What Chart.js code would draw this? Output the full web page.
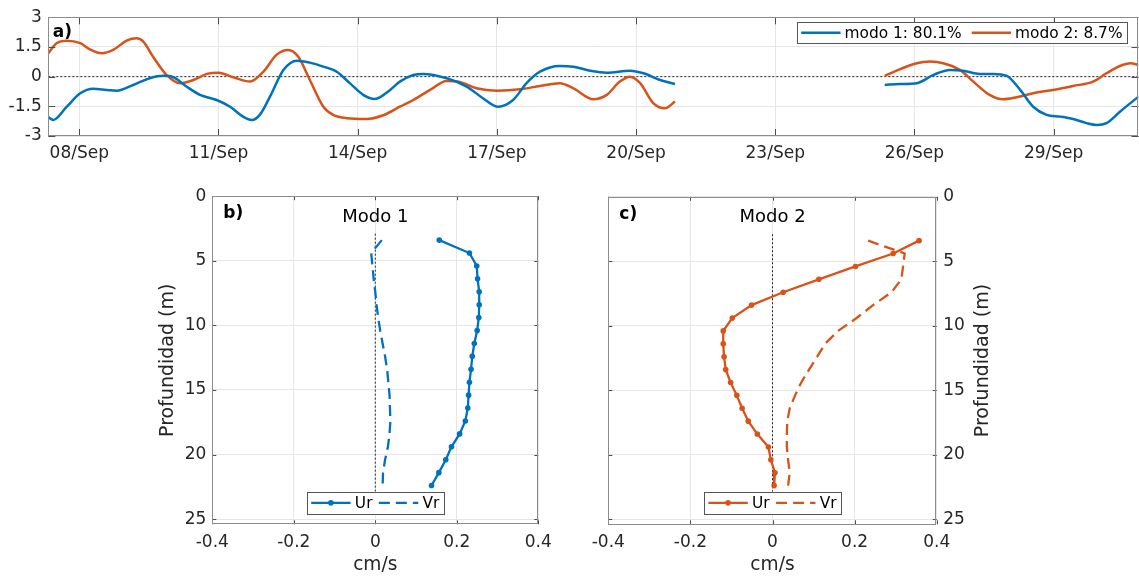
<!DOCTYPE html>
<html lang="es">
<head>
<meta charset="utf-8" />
<title>Modos: serie temporal y perfiles</title>
<script src="https://cdn.jsdelivr.net/npm/chart.js@4"></script>
<style>
  body { margin: 0; background: #fff; width: 1139px; height: 576px; position: relative; overflow: hidden; }
  canvas { position: absolute; }
  #serie { left: 0; top: 0; }
  #modo1 { left: 150px; top: 180px; }
  #modo2 { left: 570px; top: 180px; }
</style>
</head>
<body>
<canvas id="serie" width="1139" height="176"></canvas>
<canvas id="modo1" width="410" height="396"></canvas>
<canvas id="modo2" width="440" height="396"></canvas>
<script>
// --- panel a: amplitud de los modos (dia de septiembre, null = hueco sin datos)
const diasModo1 = [7.33, 7.44, 7.73, 8.02, 8.30, 8.59, 8.81, 9.16, 9.52, 9.81, 10.03, 10.31, 10.60, 10.96,
  11.25, 11.53, 11.72, 11.89, 12.11, 12.40, 12.69, 12.97, 13.26, 13.55, 13.83, 14.12, 14.37, 14.70, 14.91,
  15.20, 15.41, 15.92, 16.35, 16.70, 17.03, 17.35, 17.64, 17.93, 18.36, 18.65, 19.01, 19.37, 19.87, 20.16,
  20.52, 20.84, 23.0, 25.36, 25.68, 26.05, 26.41, 26.77, 27.05, 27.41, 27.70, 27.99, 28.28, 28.56, 28.85,
  29.14, 29.42, 29.71, 29.93, 30.14, 30.43, 30.83];
const modo1 = [-2.05, -2.19, -1.52, -0.84, -0.61, -0.67, -0.71, -0.42, -0.08, 0.04, -0.03, -0.50, -0.92, -1.18,
  -1.52, -2.02, -2.19, -1.93, -1.01, 0.34, 0.81, 0.71, 0.51, 0.25, -0.33, -0.92, -1.13, -0.67, -0.25,
  0.08, 0.14, -0.08, -0.50, -1.09, -1.52, -1.18, -0.33, 0.25, 0.54, 0.50, 0.30, 0.20, 0.30, 0.17,
  -0.17, -0.37, null, -0.42, -0.37, -0.33, 0.09, 0.34, 0.30, 0.14, 0.14, 0.04, -0.67, -1.52, -1.93,
  -2.02, -2.14, -2.35, -2.44, -2.35, -1.77, -1.01];
const diasModo2 = [7.33, 7.51, 7.73, 8.02, 8.23, 8.48, 8.73, 9.02, 9.24, 9.38, 9.59, 9.88, 10.17, 10.46,
  10.75, 11.00, 11.32, 11.68, 11.97, 12.25, 12.50, 12.72, 12.97, 13.26, 13.47, 13.76, 14.19, 14.55, 14.91,
  15.20, 15.56, 15.92, 16.20, 16.56, 17.00, 17.50, 17.93, 18.36, 18.65, 19.08, 19.37, 19.65, 19.87, 20.09,
  20.37, 20.62, 20.84, 23.0, 25.36, 25.68, 26.05, 26.34, 26.62, 26.98, 27.27, 27.62, 27.91, 28.20, 28.56,
  28.99, 29.42, 29.85, 30.14, 30.43, 30.66, 30.83];
const modo2 = [1.18, 1.69, 1.82, 1.69, 1.38, 1.18, 1.35, 1.82, 1.94, 1.77, 1.01, 0.09, -0.33, -0.17,
  0.14, 0.20, -0.03, -0.25, 0.25, 1.10, 1.35, 1.01, -0.17, -1.52, -1.93, -2.10, -2.14, -1.95, -1.52,
  -1.18, -0.67, -0.22, -0.27, -0.59, -0.71, -0.64, -0.47, -0.33, -0.59, -1.14, -0.92, -0.25, 0.00, -0.33,
  -1.34, -1.60, -1.26, null, 0.04, 0.37, 0.68, 0.76, 0.68, 0.34, -0.25, -0.92, -1.14, -1.04, -0.84,
  -0.67, -0.47, -0.25, 0.17, 0.54, 0.68, 0.59];
const diasTicks = [8, 11, 14, 17, 20, 23, 26, 29];
const fechasTicks = ['08/Sep', '11/Sep', '14/Sep', '17/Sep', '20/Sep', '23/Sep', '26/Sep', '29/Sep'];
const ampTicks = [-3, -1.5, 0, 1.5, 3];
const ampLabels = ['-3', '-1.5', '0', '1.5', '3'];
const diaMin = 7.332, diaMax = 30.83;

// --- paneles b y c: perfiles verticales
const profundidad = [3.4, 4.4, 5.4, 6.4, 7.4, 8.4, 9.4, 10.4, 11.4, 12.4, 13.4, 14.4, 15.4, 16.4, 17.4,
  18.4, 19.4, 20.4, 21.4, 22.4];
const urModo1 = [0.157, 0.231, 0.249, 0.251, 0.255, 0.255, 0.254, 0.250, 0.243, 0.238, 0.235, 0.231,
  0.229, 0.227, 0.221, 0.207, 0.187, 0.173, 0.156, 0.138];
const vrModo1 = [0.016, -0.010, -0.007, -0.004, 0.000, 0.003, 0.007, 0.012, 0.018, 0.024, 0.029, 0.032,
  0.035, 0.036, 0.037, 0.035, 0.031, 0.024, 0.019, 0.018];
const urModo2 = [0.357, 0.294, 0.202, 0.113, 0.026, -0.051, -0.098, -0.120, -0.120, -0.118, -0.114, -0.102,
  -0.087, -0.074, -0.059, -0.037, -0.010, -0.004, 0.006, 0.004];
const vrModo2 = [0.233, 0.322, 0.318, 0.314, 0.290, 0.245, 0.205, 0.160, 0.128, 0.109, 0.089, 0.070,
  0.055, 0.042, 0.036, 0.035, 0.035, 0.038, 0.042, 0.038];
const velTicks = [-0.4, -0.2, 0, 0.2, 0.4];
const velLabels = ['-0.4', '-0.2', '0', '0.2', '0.4'];
const profTicks = [0, 5, 10, 15, 20, 25];
const profLabels = ['0', '5', '10', '15', '20', '25'];
const profMax = 25.4;
const lineaCero = [2.9, 22.9];

Chart.defaults.font.family = "'DejaVu Sans', sans-serif";
Chart.defaults.font.size = 17;
Chart.defaults.color = '#262626';
Chart.defaults.animation = false;
Chart.defaults.plugins.legend.display = false;
Chart.defaults.plugins.tooltip.enabled = false;

const AZUL = '#0072bd', NARANJA = '#d95319';
const GRID = '#e6e6e6';

// marco, ticks interiores, etiquetas y leyenda estilo matlab
const marco = {
  id: 'marco',
  afterDraw(chart, args, o) {
    const { ctx, chartArea: a, scales } = chart;
    ctx.save();
    ctx.strokeStyle = '#4d4d4d';
    ctx.lineWidth = 1;
    ctx.beginPath();
    scales.x.ticks.forEach(t => {
      const p = Math.round(scales.x.getPixelForValue(t.value)) + 0.5;
      ctx.moveTo(p, a.bottom); ctx.lineTo(p, a.bottom - o.tick);
      ctx.moveTo(p, a.top); ctx.lineTo(p, a.top + o.tick);
    });
    scales.y.ticks.forEach(t => {
      const p = Math.round(scales.y.getPixelForValue(t.value)) + 0.5;
      ctx.moveTo(a.left, p); ctx.lineTo(a.left + o.tick, p);
      ctx.moveTo(a.right, p); ctx.lineTo(a.right - o.tick, p);
    });
    ctx.stroke();
    ctx.strokeStyle = '#8c8c8c';
    ctx.strokeRect(Math.round(a.left) + 0.5, Math.round(a.top) + 0.5,
      Math.round(a.right - a.left) - 1, Math.round(a.bottom - a.top) - 1);

    ctx.textBaseline = 'middle';
    ctx.fillStyle = '#000';
    ctx.font = "bold 17px 'DejaVu Sans'";
    ctx.textAlign = 'left';
    ctx.fillText(o.tag, a.left + o.tagDx, a.top + o.tagDy);
    if (o.title) {
      ctx.font = "18px 'DejaVu Sans'";
      ctx.textAlign = 'center';
      ctx.fillText(o.title, (a.left + a.right) / 2, a.top + 21);
    }
    if (o.rightTitle) {
      ctx.save();
      ctx.fillStyle = '#262626';
      ctx.font = "19px 'DejaVu Sans'";
      ctx.translate(o.rightTitleX, (a.top + a.bottom) / 2);
      ctx.rotate(-Math.PI / 2);
      ctx.textAlign = 'center';
      ctx.fillText(o.rightTitle, 0, 0);
      ctx.restore();
    }
    if (o.legend) dibujaLeyenda(chart, o.legend);
    ctx.restore();
  }
};

function dibujaLeyenda(chart, L) {
  const { ctx, chartArea: a } = chart;
  const items = chart.data.datasets.filter(d => d.label);
  ctx.font = "15.4px 'DejaVu Sans'";
  const anchos = items.map(d => ctx.measureText(d.label).width);
  let total = L.pad * 2 + L.itemGap * (items.length - 1);
  anchos.forEach(w => { total += L.line + L.gap + w; });
  const x0 = L.align === 'right' ? a.right - L.dx - total : (a.left + a.right) / 2 - total / 2;
  const y0 = L.align === 'right' ? a.top + L.dy : a.bottom - L.dy - L.h;
  ctx.fillStyle = '#fff';
  ctx.fillRect(x0, y0, total, L.h);
  ctx.strokeStyle = '#555';
  ctx.lineWidth = 1;
  ctx.strokeRect(Math.round(x0) + 0.5, Math.round(y0) + 0.5, Math.round(total), Math.round(L.h));
  const cy = y0 + L.h / 2;
  let x = x0 + L.pad;
  items.forEach((d, i) => {
    ctx.save();
    ctx.strokeStyle = d.borderColor;
    ctx.lineWidth = d.borderWidth;
    ctx.setLineDash(d.borderDash || []);
    ctx.beginPath();
    ctx.moveTo(x, cy); ctx.lineTo(x + L.line, cy);
    ctx.stroke();
    if (d.pointRadius > 0) {
      ctx.fillStyle = d.borderColor;
      ctx.beginPath();
      ctx.arc(x + L.line / 2, cy, d.pointRadius, 0, Math.PI * 2);
      ctx.fill();
    }
    ctx.restore();
    ctx.fillStyle = '#000';
    ctx.textAlign = 'left';
    ctx.textBaseline = 'middle';
    ctx.fillText(d.label, x + L.line + L.gap, cy + 1);
    x += L.line + L.gap + anchos[i] + L.itemGap;
  });
}

function puntos(xs, ys) {
  return xs.map((x, i) => ({ x: x, y: ys[i] }));
}

// panel a
new Chart(document.getElementById('serie'), {
  type: 'line',
  data: {
    datasets: [
      { label: 'modo 1: 80.1%', data: puntos(diasModo1, modo1), borderColor: AZUL, borderWidth: 2.5,
        pointRadius: 0, cubicInterpolationMode: 'monotone', spanGaps: false },
      { label: 'modo 2: 8.7%', data: puntos(diasModo2, modo2), borderColor: NARANJA, borderWidth: 2.5,
        pointRadius: 0, cubicInterpolationMode: 'monotone', spanGaps: false },
      { label: '', data: [{ x: diaMin, y: 0 }, { x: diaMax, y: 0 }], borderColor: '#262626',
        borderWidth: 1, borderDash: [2, 2], pointRadius: 0 }
    ]
  },
  options: {
    responsive: false,
    layout: { padding: { top: 17.3, right: 0.5, left: 0, bottom: 0 } },
    scales: {
      x: {
        type: 'linear', min: diaMin, max: diaMax,
        afterBuildTicks: s => { s.ticks = diasTicks.map(v => ({ value: v })); },
        ticks: { callback: (v, i) => fechasTicks[i], padding: 7.8, maxRotation: 0, autoSkip: false },
        grid: { color: GRID, drawTicks: false },
        border: { display: false },
        afterFit: s => { s.height = 40; }
      },
      y: {
        min: -3, max: 3,
        afterBuildTicks: s => { s.ticks = ampTicks.map(v => ({ value: v })); },
        ticks: { callback: (v, i) => ampLabels[i], padding: 6.6 },
        grid: { color: GRID, drawTicks: false },
        border: { display: false },
        afterFit: s => { s.width = 48.3; }
      }
    },
    plugins: {
      marco: { tick: 7, tag: 'a)', tagDx: 4.4, tagDy: 15,
        legend: { align: 'right', dx: 11.7, dy: 4.7, h: 21.3, pad: 4.3, line: 39.3, gap: 4, itemGap: 10 } }
    }
  },
  plugins: [marco]
});

// paneles b y c
function perfil(id, ur, vr, color, lado, extra) {
  const derecha = lado === 'right';
  return new Chart(document.getElementById(id), {
    type: 'line',
    data: {
      datasets: [
        { label: 'Ur', data: puntos(ur, profundidad), borderColor: color, backgroundColor: color,
          borderWidth: 2.3, pointRadius: 2.8, pointBorderWidth: 0, tension: 0 },
        { label: 'Vr', data: puntos(vr, profundidad), borderColor: color, borderWidth: 2.3,
          borderDash: [11, 6], pointRadius: 0, tension: 0 },
        { label: '', data: [{ x: 0, y: lineaCero[0] }, { x: 0, y: lineaCero[1] }], borderColor: '#262626',
          borderWidth: 1, borderDash: [2, 2], pointRadius: 0 }
      ]
    },
    options: {
      responsive: false,
      layout: { padding: extra.padding },
      scales: {
        x: {
          type: 'linear', min: -0.4, max: 0.4,
          afterBuildTicks: s => { s.ticks = velTicks.map(v => ({ value: v })); },
          ticks: { callback: (v, i) => velLabels[i], padding: 8.2 },
          grid: { color: GRID, drawTicks: false },
          border: { display: false },
          title: { display: true, text: 'cm/s', font: { size: 18.6 }, padding: { top: 0, bottom: 0 } },
          afterFit: s => { s.height = 51.7; }
        },
        y: {
          type: 'linear', reverse: true, min: 0, max: profMax, position: lado,
          afterBuildTicks: s => { s.ticks = profTicks.map(v => ({ value: v })); },
          ticks: { callback: (v, i) => profLabels[i], padding: derecha ? 6.6 : 6 },
          grid: { color: GRID, drawTicks: false },
          border: { display: false },
          title: { display: !derecha, text: 'Profundidad (m)', font: { size: 19 }, padding: { top: 6.9, bottom: 0 } },
          afterFit: s => { s.width = extra.yWidth; }
        }
      },
      plugins: {
        marco: Object.assign({ tick: 4, tagDx: 11, tagDy: 17.6,
          legend: { align: 'center', dy: 10.3, h: 22.3, pad: 4.6, line: 39.4, gap: 4.3, itemGap: 6.4 } }, extra.marco)
      }
    },
    plugins: [marco]
  });
}

perfil('modo1', urModo1, vrModo1, AZUL, 'left', {
  padding: { top: 15.7, right: 19, left: 0, bottom: 0 },
  yWidth: 62.3,
  marco: { tag: 'b)', title: 'Modo 1' }
});
perfil('modo2', urModo2, vrModo2, NARANJA, 'right', {
  padding: { top: 15.7, right: 0, left: 38.3, bottom: 0 },
  yWidth: 73.3,
  marco: { tag: 'c)', title: 'Modo 2', rightTitle: 'Profundidad (m)', rightTitleX: 413 }
});
</script>
</body>
</html>
